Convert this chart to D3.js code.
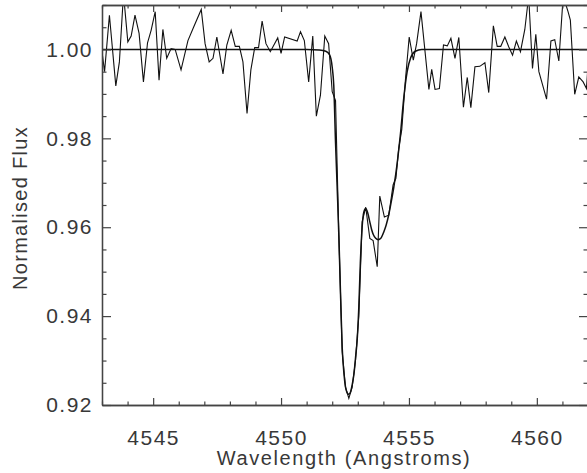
<!DOCTYPE html>
<html>
<head>
<meta charset="utf-8">
<script src="https://cdn.jsdelivr.net/npm/d3@7"></script>
<style>
  body { margin: 0; background: #fff; }
  svg text { font-family: "Liberation Sans", "DejaVu Sans", sans-serif; fill: #383838; }
</style>
</head>
<body>
<div id="chart"></div>
<script>
var obsWave = [4542.90,4543.10,4543.29,4543.54,4543.68,4543.84,4544.01,4544.14,4544.29,4544.45,
  4544.62,4544.78,4544.92,4545.08,4545.23,4545.38,4545.53,4545.70,4545.86,4546.09,
  4546.36,4546.58,4546.88,4547.03,4547.19,4547.34,4547.49,4547.73,4547.88,4548.05,
  4548.21,4548.37,4548.51,4548.67,4548.82,4548.97,4549.12,4549.26,4549.41,4549.58,
  4549.87,4550.00,4550.14,4550.63,4550.76,4550.91,4551.08,4551.24,4551.38,4551.54,
  4551.71,4551.86,4552.00,4552.13,4552.26,4552.39,4552.52,4552.65,4552.78,4552.91,
  4553.04,4553.17,4553.31,4553.47,4553.60,4553.76,4553.86,4554.04,4554.21,4554.38,
  4554.49,4554.60,4554.72,4554.86,4555.01,4555.17,4555.30,4555.47,4555.78,4555.89,
  4556.02,4556.19,4556.35,4556.50,4556.64,4556.80,4556.95,4557.13,4557.28,4557.42,
  4557.58,4557.77,4557.97,4558.12,4558.30,4558.45,4558.59,4558.75,4558.90,4559.05,
  4559.20,4559.36,4559.53,4559.68,4559.83,4559.96,4560.08,4560.38,4560.55,4560.70,
  4560.86,4561.03,4561.22,4561.31,4561.48,4561.64,4561.81,4561.94,4562.10];
var obsFlux = [1.0040,0.9950,1.0077,0.9918,0.9972,1.0125,1.0017,1.0030,1.0077,1.0036,
  0.9927,1.0015,1.0043,1.0085,0.9931,1.0045,0.9980,1.0002,1.0000,0.9954,
  1.0020,1.0050,1.0090,1.0013,0.9972,0.9980,1.0028,0.9945,1.0010,1.0043,
  1.0007,1.0007,0.9972,0.9856,0.9954,1.0004,1.0004,1.0064,1.0013,0.9995,
  1.0026,0.9991,1.0028,1.0019,1.0040,1.0020,0.9927,1.0030,0.9850,0.9897,
  1.0030,1.0013,0.9905,0.9885,0.9580,0.9320,0.9240,0.9215,0.9240,0.9300,
  0.9400,0.9612,0.9645,0.9575,0.9570,0.9511,0.9670,0.9623,0.9627,0.9695,
  0.9710,0.9777,0.9820,0.9930,1.0028,0.9976,1.0013,1.0085,0.9910,0.9955,
  0.9910,0.9912,1.0010,1.0008,1.0025,0.9980,1.0027,0.9870,0.9937,0.9869,
  0.9961,0.9962,0.9970,0.9903,1.0053,1.0007,1.0007,1.0028,1.0006,0.9987,
  1.0019,0.9995,1.0045,1.0120,0.9957,1.0034,0.9950,0.9888,1.0019,1.0022,
  0.9974,1.0120,1.0085,1.0066,0.9899,0.9938,0.9927,0.9912,1.0050];

// fitted model profile
var modelWave = [4543.0,4551.0,4551.5,4551.75,4551.90,4552.00,4552.06,4552.13,4552.20,4552.26,
  4552.33,4552.39,4552.46,4552.52,4552.58,4552.65,4552.72,4552.78,4552.85,4552.91,
  4552.98,4553.04,4553.10,4553.17,4553.24,4553.31,4553.39,4553.47,4553.54,4553.61,
  4553.70,4553.80,4553.90,4554.02,4554.11,4554.21,4554.31,4554.41,4554.54,4554.67,
  4554.80,4554.93,4555.07,4555.25,4555.50,4562.0];
var modelFlux = [1.0,1.0,0.9999,0.9996,0.9988,0.9960,0.9920,0.9790,0.9680,0.9580,
  0.9440,0.9330,0.9270,0.9240,0.9228,0.9224,0.9230,0.9245,0.9270,0.9305,
  0.9350,0.9420,0.9520,0.9600,0.9635,0.9642,0.9632,0.9612,0.9595,0.9583,
  0.9575,0.9572,0.9575,0.9590,0.9605,0.9628,0.9658,0.9691,0.9744,0.9811,
  0.9892,0.9950,0.9982,0.9996,1.0,1.0];

var xTicks = [4545, 4550, 4555, 4560];
var xMinor = [4543,4544,4546,4547,4548,4549,4551,4552,4553,4554,4556,4557,4558,4559,4561,4562];
var yTicks = [0.92, 0.94, 0.96, 0.98, 1.00];
var yMinor = [0.925,0.93,0.935,0.945,0.95,0.955,0.965,0.97,0.975,0.985,0.99,0.995,1.005,1.01];

var W = 587, H = 473;
var pLeft = 102, pRight = 588, pTop = 5, pBottom = 405;

var x = d3.scaleLinear().domain([4543, 4562]).range([pLeft, pRight]);
var y = d3.scaleLinear().domain([0.92, 1.01]).range([pBottom, pTop]);

var svg = d3.select("#chart").append("svg")
            .attr("width", W).attr("height", H);

svg.append("clipPath").attr("id", "plotclip")
   .append("rect").attr("x", pLeft).attr("y", pTop)
   .attr("width", pRight - pLeft).attr("height", pBottom - pTop);

var obs = obsWave.map((d,i) => [d, obsFlux[i]]);
var mod = modelWave.map((d,i) => [d, modelFlux[i]]);

var plot = svg.append("g").attr("clip-path", "url(#plotclip)");

plot.append("path").datum(mod)
    .attr("fill", "none").attr("stroke", "#111").attr("stroke-width", 1.5)
    .attr("d", d3.line().x(d => x(d[0])).y(d => y(d[1])).curve(d3.curveMonotoneX));

plot.append("path").datum(obs)
    .attr("fill", "none").attr("stroke", "#111").attr("stroke-width", 1.1)
    .attr("d", d3.line().x(d => x(d[0])).y(d => y(d[1])));

var axisColor = "#444";

function styleAxis(g) {
  g.selectAll("path.domain").attr("stroke", axisColor).attr("stroke-width", 1.3);
  g.selectAll(".tick line").attr("stroke", axisColor).attr("stroke-width", 1.2);
  g.selectAll("text").attr("font-size", 21).attr("fill", "#383838")
   .attr("letter-spacing", 1.5)
   .style("font-family", "'Liberation Sans', sans-serif");
}

// bottom
svg.append("g").attr("transform", "translate(0," + pBottom + ")")
   .call(d3.axisBottom(x).tickValues(xTicks).tickSize(-7).tickSizeOuter(0)
         .tickPadding(25).tickFormat(d3.format("d")))
   .call(styleAxis);
svg.append("g").attr("transform", "translate(0," + pBottom + ")")
   .call(d3.axisBottom(x).tickValues(xMinor).tickSize(-3.5).tickSizeOuter(0).tickFormat(""))
   .call(styleAxis);
// top
svg.append("g").attr("transform", "translate(0," + pTop + ")")
   .call(d3.axisTop(x).tickValues(xTicks).tickSize(-7).tickSizeOuter(0).tickFormat(""))
   .call(styleAxis);
svg.append("g").attr("transform", "translate(0," + pTop + ")")
   .call(d3.axisTop(x).tickValues(xMinor).tickSize(-3.5).tickSizeOuter(0).tickFormat(""))
   .call(styleAxis);
// left
svg.append("g").attr("transform", "translate(" + pLeft + ",0)")
   .call(d3.axisLeft(y).tickValues(yTicks).tickSize(-9).tickSizeOuter(0)
         .tickPadding(9).tickFormat(d3.format(".2f")))
   .call(styleAxis);
svg.append("g").attr("transform", "translate(" + pLeft + ",0)")
   .call(d3.axisLeft(y).tickValues(yMinor).tickSize(-4.5).tickSizeOuter(0).tickFormat(""))
   .call(styleAxis);
// right (axis line itself falls just past the window edge)
svg.append("g").attr("transform", "translate(" + pRight + ",0)")
   .call(d3.axisRight(y).tickValues(yTicks).tickSize(-9).tickSizeOuter(0).tickFormat(""))
   .call(styleAxis)
   .call(g => g.select(".domain").remove());
svg.append("g").attr("transform", "translate(" + pRight + ",0)")
   .call(d3.axisRight(y).tickValues(yMinor).tickSize(-4.5).tickSizeOuter(0).tickFormat(""))
   .call(styleAxis)
   .call(g => g.select(".domain").remove());

svg.append("text")
   .attr("x", 344).attr("y", 465)
   .attr("text-anchor", "middle")
   .attr("font-size", 20).attr("letter-spacing", 1.6)
   .text("Wavelength (Angstroms)");

svg.append("text")
   .attr("transform", "translate(27,208) rotate(-90)")
   .attr("text-anchor", "middle")
   .attr("font-size", 20).attr("letter-spacing", 1.3)
   .text("Normalised Flux");
</script>
</body>
</html>
